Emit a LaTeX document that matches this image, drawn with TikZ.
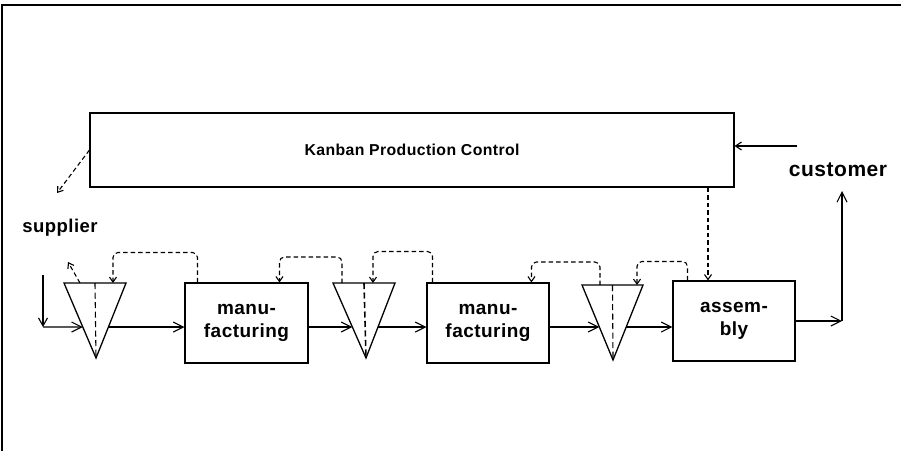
\documentclass[tikz,border=0pt]{standalone}
\usepackage{fontspec}
\setmainfont{Liberation Sans}
\newfontfamily\lblfont{Liberation Sans Bold}[LetterSpace=2.5]
\usetikzlibrary{arrows.meta,calc}
\tikzset{
  box/.style={draw, line width=1.1pt, align=center, inner sep=0pt, font=\lblfont\fontsize{19}{23}\selectfont},
  flow/.style={line width=1.1pt, -{Straight Barb[length=10pt,width=10pt]}},
  kan/.style={line width=1.1pt, dash pattern=on 4.5pt off 3pt, rounded corners=5pt, -{Straight Barb[length=5pt,width=7pt]}},
  tri/.style={line width=1.3pt},
  axis/.style={line width=1.1pt, dash pattern=on 6pt off 3.5pt},
  lbl/.style={font=\lblfont\fontsize{18.5}{20}\selectfont, inner sep=0pt}
}
\begin{document}
\begin{tikzpicture}[x=1pt,y=-1pt]
\useasboundingbox (0,0) rectangle (901,451);
% frame (top and left edges only)
\draw[line width=1.8pt] (2,451) -- (2,5) -- (901,5);

% control box
\node[box, minimum width=644pt, minimum height=74pt, font=\lblfont\fontsize{15.8}{17}\selectfont] (kb) at (412,150) {Kanban Production Control};

% process boxes
\node[box, minimum width=123pt, minimum height=80pt] (mf1) at (246.5,323) {manu-\\facturing};
\node[box, minimum width=122pt, minimum height=80pt] (mf2) at (488,323) {manu-\\facturing};
\node[box, minimum width=122pt, minimum height=80pt] (asm) at (734,321) {assem-\\bly};

% buffers (triangles)
\coordinate (t1l) at (64,283);  \coordinate (t1r) at (126,283); \coordinate (t1a) at (96,358);
\coordinate (t2l) at (333,283); \coordinate (t2r) at (395,283); \coordinate (t2a) at (366,358);
\coordinate (t3l) at (582,285); \coordinate (t3r) at (643,285); \coordinate (t3a) at (613,360);
\draw[tri] (t1l) -- (t1r) -- (t1a) -- cycle;
\draw[tri] (t2l) -- (t2r) -- (t2a) -- cycle;
\draw[tri] (t3l) -- (t3r) -- (t3a) -- cycle;
\draw[axis] ($(t1l)!0.5!(t1r)$) -- (t1a);
\draw[axis, line width=1.6pt] ($(t2l)!0.5!(t2r)$) -- (t2a);
\draw[axis] ($(t3l)!0.5!(t3r)$) -- (t3a);

% points where the flow meets the triangle sides
\coordinate (t1in)  at ($(t1l)!0.587!(t1a)$);
\coordinate (t1out) at ($(t1r)!0.587!(t1a)$);
\coordinate (t2in)  at ($(t2l)!0.587!(t2a)$);
\coordinate (t2out) at ($(t2r)!0.587!(t2a)$);
\coordinate (t3in)  at ($(t3l)!0.56!(t3a)$);
\coordinate (t3out) at ($(t3r)!0.56!(t3a)$);

% labels
\node[lbl] (sup) at (60,228) {supplier};
\node[lbl, font=\lblfont\fontsize{21}{22}\selectfont] (cus) at (838,170) {customer};

% material flow
\coordinate (sin) at (43,275);
\coordinate (scorner) at (43,327);
\draw[line width=1.1pt, -{Straight Barb[length=8pt,width=9pt]}] (sin) -- (scorner);
\draw[flow] (scorner) -- (t1in);
\draw[flow] (t1out) -- (t1out -| mf1.west);
\draw[flow] (mf1.east |- t2in) -- (t2in);
\draw[flow] (t2out) -- (t2out -| mf2.west);
\draw[flow] (mf2.east |- t3in) -- (t3in);
\draw[flow] (t3out) -- (t3out -| asm.west);
\coordinate (ocorner) at (842,321);
\draw[flow] (asm.east |- ocorner) -- (ocorner);
\draw[flow] (ocorner) -- (ocorner |- 0,191);

% customer order into control
\coordinate (cin) at (797,146);
\draw[line width=1.1pt, -{Straight Barb[length=6pt,width=8pt]}] (cin) -- (cin -| kb.east);

% kanban signals
\coordinate (kbs) at (57,193);
\draw[kan] (kb.west |- 0,150) -- (kbs);
\draw[kan] (80,283) -- (68,262);
\draw[kan] ([xshift=13pt]mf1.north west) -- ++(0,-30) -| (113,283);
\draw[kan] (342,283) -- (342,257) -| ([xshift=95pt]mf1.north west);
\draw[kan] ([xshift=6pt]mf2.north west) -- ++(0,-31) -| (373,283);
\draw[kan] (600,285) -- (600,262) -| ([xshift=105pt]mf2.north west);
\draw[kan] ([xshift=15pt]asm.north west) -- ++(0,-19) -| (637,285);
\draw[kan, rounded corners=0pt] (kb.south -| 708,0) -- (asm.north -| 708,0);
\end{tikzpicture}
\end{document}
